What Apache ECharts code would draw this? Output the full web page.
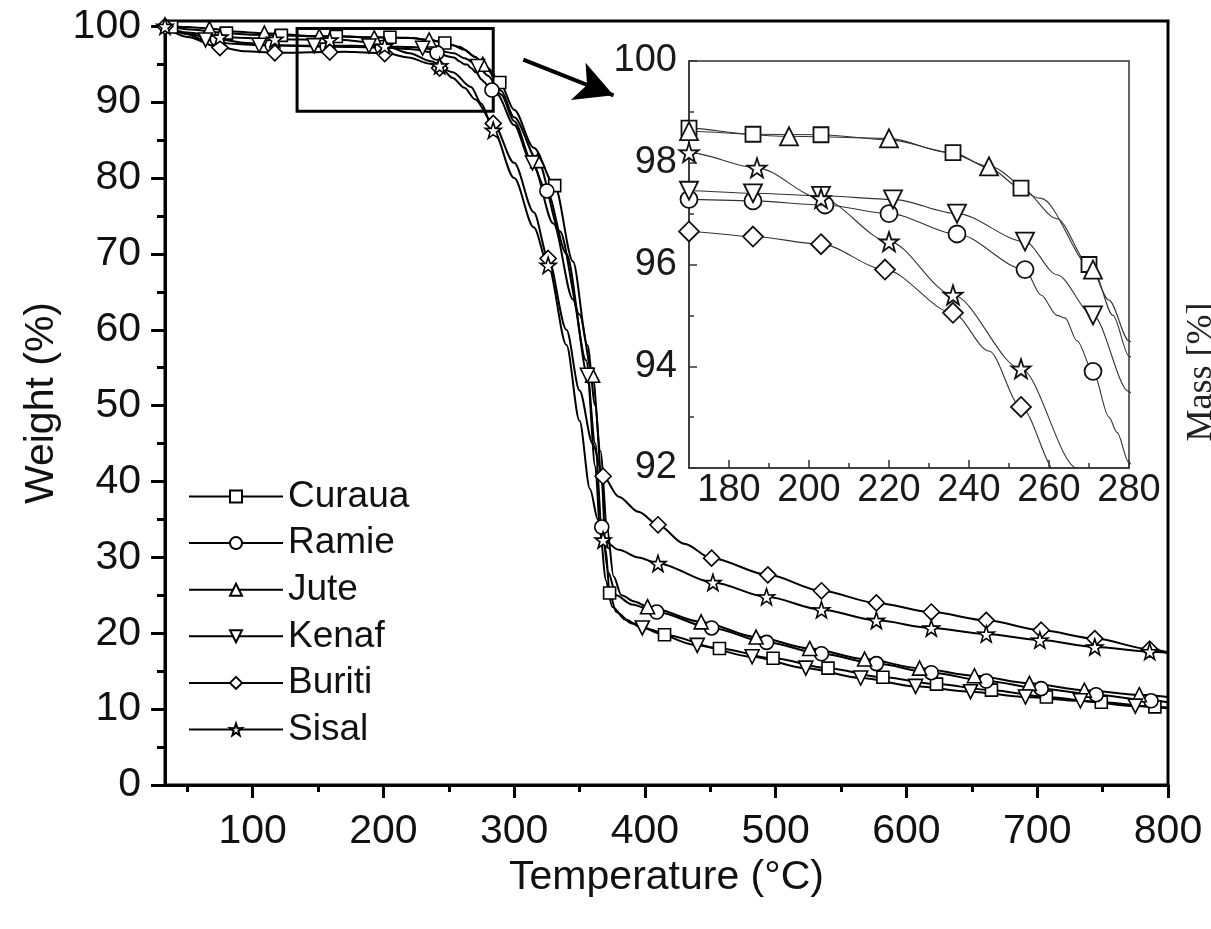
<!DOCTYPE html>
<html><head><meta charset="utf-8">
<script src="https://cdn.jsdelivr.net/npm/echarts@6/dist/echarts.min.js"></script>
<style>html,body{margin:0;padding:0;background:#fff}#c{width:1211px;height:929px}</style>
</head><body><div id="c"></div>
<script>
// ---- tick values ----
const xTicks = [100,200,300,400,500,600,700,800];
const xMinor = [50,150,250,350,450,550,650,750];
const yTicks = [0,10,20,30,40,50,60,70,80,90,100];
const yMinor = [5,15,25,35,45,55,65,75,85,95];
const insetXTicks = [180,200,220,240,260,280];
const insetXMinor = [190,210,230,250,270];
const insetYMinor = [93,95,97,99];

// ---- curves (Temperature °C, Weight %) ----
const curaua = [[33,100],[38,99.9],[50,99.6],[80,99.1],[100,98.9],[122,98.8],[145,98.7],[164,98.65],[170,98.68],[186,98.56],[203,98.55],[220,98.45],[236,98.2],[245,97.9],[253,97.5],[262,96.9],[270,96.0],[275,95.3],[280,94.5],[289,92.6],[300,89],[315,84],[331,79],[345,69],[356,58],[362,50],[367,40],[370,31],[373,25.3],[378,22.8],[390,21.3],[415,19.8],[457,18.0],[498,16.7],[540,15.4],[582,14.2],[623,13.3],[665,12.5],[707,11.6],[749,10.9],[790,10.3],[800,10.2]];
const ramie = [[33,100],[50,99.0],[73,98.3],[95,97.8],[115,97.5],[157,97.3],[170,97.28],[186,97.25],[204,97.17],[220,97.0],[237,96.6],[254,95.9],[258,95.4],[262,95.0],[264,94.95],[267,94.5],[271,93.9],[275,93.0],[277,92.7],[280,92.1],[287,91.0],[300,87],[312,82.5],[325,78.3],[340,70],[355,56],[362,45],[367,34],[372,28],[378,25],[390,23.8],[409,22.8],[451,20.7],[493,18.8],[535,17.3],[577,16.0],[619,14.8],[661,13.7],[703,12.7],[745,11.9],[787,11.1],[800,10.9]];
const jute = [[33,100],[50,99.9],[67,99.7],[85,99.3],[109,99.1],[151,98.7],[170,98.62],[195,98.52],[220,98.48],[235,98.2],[245,97.93],[258,97.3],[271,95.9],[276,95.0],[280,94.2],[290,91.5],[300,88],[318,82.3],[335,73],[350,62],[360,54],[366,44],[371,34],[376,27.5],[382,25],[392,24.2],[402,23.5],[443,21.5],[485,19.5],[526,18.0],[568,16.6],[610,15.4],[652,14.4],[694,13.4],[736,12.5],[778,11.9],[800,11.6]];
const kenaf = [[33,100],[45,99.2],[64,98.2],[85,97.7],[105,97.5],[147,97.45],[170,97.45],[186,97.4],[203,97.35],[221,97.28],[237,97.0],[254,96.45],[262,95.8],[271,95.0],[280,93.5],[290,91],[300,87.5],[314,82],[330,74],[345,64],[356,54],[362,42],[366,33],[370,27],[375,23.5],[385,21.8],[398,20.7],[440,18.4],[482,16.9],[523,15.4],[565,14.1],[607,13.0],[649,12.3],[691,11.6],[733,11.1],[775,10.4],[800,10.1]];
const buriti = [[33,100],[50,98.6],[75,97.2],[95,96.7],[117,96.5],[159,96.6],[170,96.65],[186,96.55],[203,96.4],[219,95.9],[236,95.05],[245,94.3],[253,93.2],[262,91.9],[270,90.4],[284,87.2],[300,82],[315,75.5],[326,69.4],[340,60],[350,52],[360,45],[368,40.7],[380,38],[395,36],[410,34.3],[430,31.8],[451,29.9],[494,27.7],[535,25.6],[577,24.0],[619,22.8],[661,21.7],[703,20.4],[744,19.3],[786,17.9],[800,17.5]];
const sisal = [[33,100],[50,99.2],[75,98.6],[117,98.3],[159,98.2],[170,98.2],[187,97.9],[203,97.3],[220,96.45],[236,95.4],[253,93.95],[267,92.0],[275,89.8],[284,86.3],[300,80],[315,73.5],[326,68.5],[340,58],[350,48],[358,39],[364,35],[368,32.3],[380,31],[395,30],[410,29.2],[452,26.7],[493,24.8],[535,23.1],[577,21.7],[619,20.7],[661,19.9],[702,19.1],[744,18.2],[786,17.6],[800,17.4]];

// ---- markers on main plot ----
const curauaMarks = [[38,99.9],[80,99.1],[122,98.8],[164,98.65],[205,98.55],[247,97.8],[289,92.6],[331,79],[373,25.3],[415,19.8],[457,18.0],[498,16.7],[540,15.4],[582,14.2],[623,13.3],[665,12.5],[707,11.6],[749,10.9],[790,10.3]];
const ramieMarks = [[73,98.3],[115,97.5],[157,97.3],[199,97.2],[241,96.5],[283,91.6],[325,78.3],[367,34],[409,22.8],[451,20.7],[493,18.8],[535,17.3],[577,16.0],[619,14.8],[661,13.7],[703,12.7],[745,11.9],[787,11.1]];
const juteMarks = [[67,99.7],[109,99.1],[151,98.7],[193,98.5],[235,98.2],[276,95.0],[318,82.3],[360,54],[402,23.5],[443,21.5],[485,19.5],[526,18.0],[568,16.6],[610,15.4],[652,14.4],[694,13.4],[736,12.5],[778,11.9]];
const kenafMarks = [[64,98.2],[105,97.5],[147,97.45],[189,97.4],[230,97.1],[272,94.7],[314,82],[356,54],[398,20.7],[440,18.4],[482,16.9],[523,15.4],[565,14.1],[607,13.0],[649,12.3],[691,11.6],[733,11.1],[775,10.4]];
const buritiMarks = [[33,100],[75,97.2],[117,96.5],[159,96.6],[201,96.4],[243,94.5],[284,87.2],[326,69.4],[368,40.7],[410,34.3],[451,29.9],[494,27.7],[535,25.6],[577,24.0],[619,22.8],[661,21.7],[703,20.4],[744,19.3],[786,17.9]];
const sisalMarks = [[33,100],[75,98.6],[117,98.3],[159,98.2],[201,97.4],[243,94.8],[284,86.3],[326,68.5],[368,32.3],[410,29.2],[452,26.7],[493,24.8],[535,23.1],[577,21.7],[619,20.7],[661,19.9],[702,19.1],[744,18.2],[786,17.6]];

// ---- markers on inset ----
const curauaInset = [[170,98.68],[186,98.56],[203,98.55],[236,98.2],[253,97.5],[270,96.0]];
const ramieInset = [[170,97.28],[186,97.25],[204,97.17],[220,97.0],[237,96.6],[254,95.9],[271,93.9]];
const juteInset = [[170,98.62],[195,98.52],[220,98.48],[245,97.93],[271,95.9]];
const kenafInset = [[170,97.45],[186,97.4],[203,97.35],[221,97.28],[237,97.0],[254,96.45],[271,95.0]];
const buritiInset = [[170,96.65],[186,96.55],[203,96.4],[219,95.9],[236,95.05],[253,93.2]];
const sisalInset = [[170,98.2],[187,97.9],[203,97.3],[220,96.45],[236,95.4],[253,93.95]];

// ---- annotation (zoom box and arrow, in data units of main plot) ----
const zoomBox = [[134,99.7],[284,88.8]];
const arrow = [[307,95.6],[376,90.9]];

const FONT = 'Liberation Sans, Arial, sans-serif';
const STAR = 'path://M50,0 L61.8,35.1 L97.6,34.5 L69,56 L79.4,90.5 L50,70 L20.6,90.5 L31,56 L2.4,34.5 L38.2,35.1 Z';
const DTRI = 'path://M0,0 L100,0 L50,88 Z';

const fibers = [
  {name:'Curaua', curve:curaua, marks:curauaMarks, inset:curauaInset, symbol:'rect', s:12, si:15},
  {name:'Ramie', curve:ramie, marks:ramieMarks, inset:ramieInset, symbol:'circle', s:14, si:17},
  {name:'Jute', curve:jute, marks:juteMarks, inset:juteInset, symbol:'triangle', s:14, si:18},
  {name:'Kenaf', curve:kenaf, marks:kenafMarks, inset:kenafInset, symbol:DTRI, s:14, si:18},
  {name:'Buriti', curve:buriti, marks:buritiMarks, inset:buritiInset, symbol:'diamond', s:16, si:20},
  {name:'Sisal', curve:sisal, marks:sisalMarks, inset:sisalInset, symbol:STAR, s:16, si:19}
];

const series = [];
fibers.forEach((f, i) => {
  const item = {color:'#fff', borderColor:'#000', borderWidth:1.6, opacity:1};
  const lineSer = {
    name:f.name, type:'line', data:f.curve, xAxisIndex:0, yAxisIndex:0,
    smooth:0.3, smoothMonotone:'x', symbol:f.symbol, symbolSize:f.s, showSymbol:false,
    itemStyle:item, lineStyle:{color:'#000', width:2}, z:2, silent:true
  };
  if (i === 0) {
    lineSer.markArea = {silent:true, label:{show:false},
      itemStyle:{color:'rgba(0,0,0,0)', borderColor:'#000', borderWidth:3},
      data:[[{coord:zoomBox[0]},{coord:zoomBox[1]}]]};
    lineSer.markLine = {silent:true, symbol:['none','arrow'], symbolSize:[30,38], label:{show:false},
      lineStyle:{color:'#000', width:4, type:'solid'},
      data:[[{coord:arrow[0]},{coord:arrow[1]}]]};
  }
  series.push(lineSer);
  series.push({name:f.name, type:'scatter', data:f.marks, xAxisIndex:0, yAxisIndex:0,
    symbol:f.symbol, symbolSize:f.s, itemStyle:item, z:3, silent:true});
  series.push({name:f.name, type:'line', data:f.curve, xAxisIndex:2, yAxisIndex:2,
    smooth:0.3, smoothMonotone:'x', showSymbol:false, symbol:f.symbol,
    itemStyle:item, lineStyle:{color:'#333', width:1.1}, z:4, silent:true, clip:true});
  series.push({name:f.name, type:'scatter', data:f.inset, xAxisIndex:2, yAxisIndex:2,
    symbol:f.symbol, symbolSize:f.si, itemStyle:{color:'#fff', borderColor:'#111', borderWidth:1.8, opacity:1}, z:5, silent:true, clip:false});
});

const mainLabel = {fontFamily:FONT, fontSize:41, color:'#111'};
const insetLabel = {fontFamily:FONT, fontSize:38, color:'#1a1a1a'};

const option = {
  animation:false,
  backgroundColor:'#fff',
  grid:[
    {left:165, top:21, right:43, bottom:144, show:true, borderColor:'#000', borderWidth:3, outerBoundsMode:'none', containLabel:false},
    {left:689, top:61, right:82, bottom:461, show:true, borderColor:'#333', borderWidth:1.5, backgroundColor:'#fff', outerBoundsMode:'none', containLabel:false, z:3}
  ],
  xAxis:[
    {gridIndex:0, type:'value', position:'bottom', min:33, max:800,
     name:'Temperature (°C)', nameLocation:'middle', nameGap:52,
     nameTextStyle:{fontFamily:FONT, fontSize:41, color:'#111'},
     axisLine:{show:true, lineStyle:{color:'#000', width:3}},
     axisTick:{show:true, customValues:xTicks, length:13, lineStyle:{color:'#000', width:3}},
     axisLabel:Object.assign({customValues:xTicks, margin:26}, mainLabel),
     splitLine:{show:false}},
    {gridIndex:0, type:'value', position:'bottom', min:33, max:800,
     axisLine:{show:false}, axisLabel:{show:false}, splitLine:{show:false},
     axisTick:{show:true, customValues:xMinor, length:7, lineStyle:{color:'#000', width:3}}},
    {gridIndex:1, type:'value', position:'bottom', min:170, max:280,
     axisLine:{show:true, lineStyle:{color:'#333', width:1.5}},
     axisTick:{show:true, inside:true, customValues:insetXTicks, length:8, lineStyle:{color:'#333', width:1.5}},
     axisLabel:Object.assign({customValues:insetXTicks, margin:4}, insetLabel),
     splitLine:{show:false}, z:4},
    {gridIndex:1, type:'value', position:'bottom', min:170, max:280,
     axisLine:{show:false}, axisLabel:{show:false}, splitLine:{show:false},
     axisTick:{show:true, inside:true, customValues:insetXMinor, length:5, lineStyle:{color:'#333', width:1.5}}, z:4}
  ],
  yAxis:[
    {gridIndex:0, type:'value', position:'left', min:0, max:100.7,
     name:'Weight (%)', nameLocation:'middle', nameGap:96, nameRotate:90,
     nameTextStyle:{fontFamily:FONT, fontSize:41, color:'#111'},
     axisLine:{show:true, lineStyle:{color:'#000', width:3}},
     axisTick:{show:true, customValues:yTicks, length:14, lineStyle:{color:'#000', width:3}},
     axisLabel:Object.assign({customValues:yTicks, margin:24}, mainLabel),
     splitLine:{show:false}},
    {gridIndex:0, type:'value', position:'left', min:0, max:100.7,
     axisLine:{show:false}, axisLabel:{show:false}, splitLine:{show:false},
     axisTick:{show:true, customValues:yMinor, length:8, lineStyle:{color:'#000', width:3}}},
    {gridIndex:1, type:'value', position:'left', min:92, max:100, interval:2,
     axisLine:{show:true, lineStyle:{color:'#333', width:1.5}},
     axisTick:{show:true, inside:true, length:8, lineStyle:{color:'#333', width:1.5}},
     axisLabel:Object.assign({margin:12}, insetLabel),
     splitLine:{show:false}, z:4},
    {gridIndex:1, type:'value', position:'left', min:92, max:100,
     axisLine:{show:false}, axisLabel:{show:false}, splitLine:{show:false},
     axisTick:{show:true, inside:true, customValues:insetYMinor, length:5, lineStyle:{color:'#333', width:1.5}}, z:4}
  ],
  legend:{
    data:fibers.map(f => f.name), orient:'vertical', left:183, top:473,
    itemWidth:94, itemHeight:15, itemGap:9.6, selectedMode:false,
    textStyle:{fontFamily:FONT, fontSize:37, color:'#111'},
    lineStyle:{color:'#000', width:2}
  },
  graphic:[
    {type:'text', x:1202, y:372, rotation:Math.PI/2,
     style:{text:'Mass [%]', font:'36px "Liberation Serif", "Times New Roman", serif', fill:'#222', textAlign:'center', textVerticalAlign:'middle'}}
  ],
  series:series
};

const chart = echarts.init(document.getElementById('c'), null, {renderer:'canvas'});
chart.setOption(option);
</script>
</body></html>
